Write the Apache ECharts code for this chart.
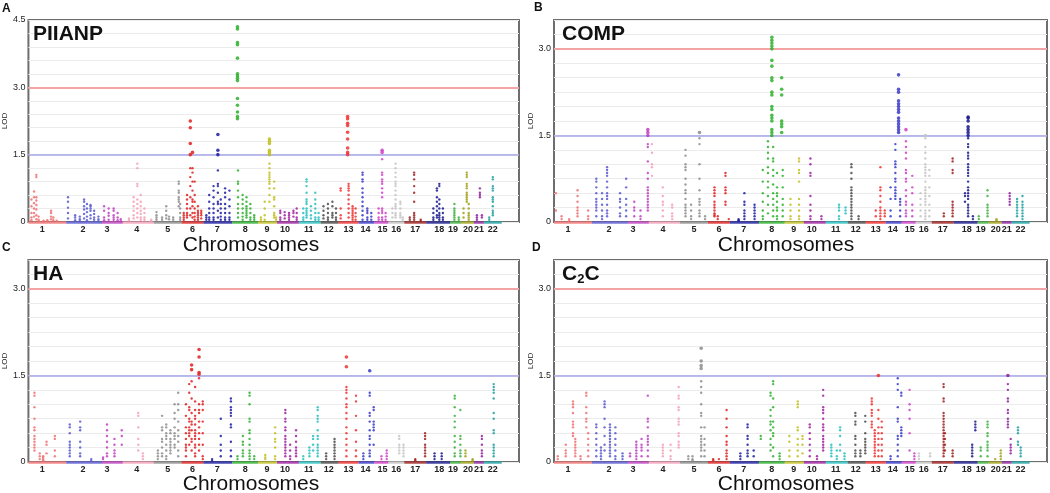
<!DOCTYPE html>
<html><head><meta charset="utf-8">
<script src="https://cdn.jsdelivr.net/npm/echarts@6/dist/echarts.min.js"></script>
<style>html,body{margin:0;padding:0;background:#fff}#c{width:1050px;height:493px}</style>
</head><body><div id="c"></div>
<script>
// ---------- data ----------
const CHROMOSOMES = ['1','2','3','4','5','6','7','8','9','10','11','12','13','14','15','16','17','18','19','20','21','22'];
// genetic length of each chromosome on the plotted map (cM)
const CHR_LEN = [285,270,157,233,210,165,218,194,143,165,165,135,150,120,105,120,165,180,82,98,75,135];
// genome position (cM) of each chromosome's tick label
const CHR_TICK_POS = [105,412,592,818,1050,1238,1425,1635,1800,1935,2115,2265,2415,2542,2670,2775,2918,3098,3202,3315,3398,3502];
const GENOME_MAX = 3700;
const LOD_SIGNIFICANT = 3.0;
const LOD_SUGGESTIVE = 1.5;
const CHR_COLORS = ['#f07070','#5858d0','#c040c0','#f4a0b8','#8c8c8c','#e02020','#1c1ca0','#2eb02e','#c0c020','#a020a0','#28c0c0','#4a4a4a','#f03030','#3a3ac8','#d040c8','#c4c4c4','#a02020','#18188c','#3cb03c','#a0a018','#9020a0','#20a0a0'];

// For each chromosome: columns of markers [relative position along chromosome, LOD, LOD, ...]
const PIIANP = [
 [[0.08,0.5,0.35,0.2,0.1,0.04],[0.15,0.68,0.55,0.42,0.3,0.2,0.12],[0.21,1.05,1.0,0.55,0.48,0.38,0.28,0.15,0.06],[0.27,0.12,0.05,0.02],[0.4,0.03,0.01],[0.5,0.02,0.04],[0.6,0.25,0.2,0.12,0.06],[0.66,0.1,0.04],[0.75,0.03]],
 [[0.05,0.55,0.45,0.32,0.2,0.08],[0.25,0.15,0.1,0.04],[0.38,0.12,0.06,0.02],[0.5,0.5,0.45,0.35,0.28,0.18,0.08],[0.58,0.4,0.3,0.22,0.12,0.04],[0.68,0.38,0.35,0.3,0.25,0.15,0.08],[0.78,0.25,0.18,0.1,0.05],[0.9,0.12,0.06,0.02]],
 [[0.1,0.35,0.25,0.1,0.04],[0.32,0.3,0.2,0.14,0.05],[0.56,0.3,0.25,0.15,0.1,0.05],[0.75,0.2,0.1,0.04],[0.9,0.06,0.02]],
 [[0.2,0.08,0.04],[0.35,0.55,0.45,0.35,0.25,0.15,0.08],[0.47,1.3,1.2,0.85,0.8,0.5,0.4,0.3,0.2,0.1],[0.58,0.6,0.45,0.35,0.25,0.18,0.1,0.05],[0.7,0.3,0.2,0.1,0.05],[0.92,0.05,0.02]],
 [[0.1,0.22,0.15,0.1,0.05],[0.3,0.1,0.05],[0.45,0.35,0.25,0.15,0.08],[0.55,0.12,0.06],[0.7,0.1,0.05],[0.9,0.9,0.85,0.7,0.65,0.55,0.5,0.45,0.35],[0.95,0.4,0.3,0.2,0.1,0.05]],
 [[0.1,0.2,0.15,0.1,0.05],[0.25,0.6,0.5,0.4,0.3,0.2,0.15,0.1],[0.4,2.25,2.1,1.75,1.5,1.2,1.0,0.8,0.55,0.3,0.15],[0.5,1.55,1.2,1.1,0.9,0.7,0.5,0.45,0.35,0.2,0.1],[0.6,0.9,0.6,0.45,0.3,0.2,0.12,0.05],[0.75,0.35,0.25,0.2,0.15,0.1,0.05],[0.9,0.25,0.2,0.15,0.08]],
 [[0.1,0.15,0.1,0.05],[0.2,0.6,0.45,0.3,0.2,0.1,0.05],[0.35,0.8,0.7,0.55,0.4,0.3,0.2,0.1,0.05],[0.5,1.95,1.6,1.5,1.15,0.85,0.8,0.65,0.45,0.4,0.25,0.1],[0.6,0.5,0.4,0.3,0.2,0.12,0.05],[0.75,0.75,0.65,0.55,0.4,0.3,0.2,0.1,0.05],[0.9,0.7,0.5,0.35,0.2,0.1,0.05]],
 [[0.2,4.35,4.3,4.0,3.95,3.65,3.3,3.25,3.2,3.15,2.75,2.6,2.45,2.35,2.3],[0.22,1.15,0.9,0.85,0.7,0.55,0.4,0.3,0.2,0.1],[0.4,0.6,0.5,0.4,0.3,0.2,0.12,0.05],[0.55,0.55,0.45,0.35,0.3,0.25,0.2,0.15,0.1],[0.7,0.4,0.3,0.2,0.1,0.05],[0.85,0.15,0.1,0.05]],
 [[0.15,0.1,0.05],[0.35,0.45,0.3,0.15,0.05],[0.6,1.85,1.8,1.75,1.6,1.55,1.5,1.3,1.2,1.1,1.05,1.0,0.95,0.9,0.85,0.75,0.6,0.45],[0.85,0.9,0.75,0.55,0.5,0.35,0.2,0.15,0.1],[0.95,0.1,0.05]],
 [[0.15,0.25,0.2,0.1,0.05],[0.35,0.22,0.15,0.08],[0.55,0.2,0.15,0.1,0.05],[0.75,0.25,0.2,0.12],[0.9,0.3,0.2,0.1,0.05]],
 [[0.2,0.3,0.2,0.1,0.05],[0.35,0.95,0.9,0.8,0.65,0.5,0.45,0.4,0.3,0.25,0.2,0.15,0.1],[0.55,0.35,0.25,0.15,0.08],[0.75,0.65,0.5,0.4,0.3,0.2,0.1,0.05],[0.9,0.2,0.1,0.05]],
 [[0.15,0.35,0.25,0.15,0.08],[0.4,0.4,0.3,0.2,0.1,0.05],[0.65,0.45,0.35,0.2,0.15,0.1],[0.85,0.3,0.2,0.1,0.05]],
 [[0.1,0.75,0.7,0.3,0.15,0.08],[0.45,2.35,2.3,2.2,2.15,2.0,1.85,1.65,1.55,1.5],[0.5,0.85,0.8,0.75,0.7,0.6,0.5,0.4,0.3,0.2,0.1],[0.7,0.35,0.3,0.25,0.2,0.15,0.1,0.05],[0.85,0.3,0.2,0.12,0.05]],
 [[0.25,1.1,1.05,0.95,0.9,0.75,0.65,0.55,0.45,0.35,0.25,0.15,0.05],[0.55,0.3,0.25,0.2,0.1,0.05],[0.8,0.2,0.12,0.05]],
 [[0.3,0.3,0.2,0.1,0.05],[0.55,1.6,1.55,1.4,1.1,1.05,0.95,0.9,0.85,0.75,0.65,0.55,0.3,0.25,0.2,0.1,0.05],[0.8,0.2,0.12,0.05]],
 [[0.25,0.3,0.2,0.1],[0.45,1.3,1.2,1.1,1.0,0.9,0.85,0.8,0.7,0.6,0.5,0.4,0.35,0.3,0.2,0.15,0.1],[0.75,0.45,0.4,0.3,0.2,0.15,0.1],[0.9,0.1,0.05]],
 [[0.25,0.1,0.05],[0.45,1.1,1.05,0.95,0.8,0.65,0.45,0.2,0.15,0.1,0.05],[0.75,0.05,0.02]],
 [[0.3,0.3,0.2,0.1,0.05],[0.45,0.75,0.7,0.55,0.45,0.35,0.25,0.15,0.1],[0.55,0.85,0.8,0.5,0.4,0.3,0.2,0.15,0.1,0.05],[0.7,0.3,0.2,0.1,0.05]],
 [[0.4,0.4,0.3,0.25,0.2,0.15,0.1,0.05],[0.8,0.1,0.05]],
 [[0.2,0.3,0.2,0.1],[0.45,1.1,1.05,1.0,0.85,0.8,0.75,0.65,0.6,0.55,0.5,0.45],[0.6,0.4,0.3,0.2,0.15,0.1,0.05]],
 [[0.3,0.15,0.1,0.05],[0.6,0.75,0.65,0.6,0.55],[0.8,0.15,0.1]],
 [[0.3,0.1,0.05],[0.5,1.0,0.95,0.8,0.75,0.7,0.55,0.5,0.45,0.35,0.25,0.2,0.15]]
];

const COMP = [
 [[0.05,0.5,0.2],[0.2,0.1,0.05],[0.4,0.05,0.02],[0.62,0.55,0.45,0.35,0.25,0.2,0.15,0.1],[0.9,0.2,0.1,0.05]],
 [[0.12,0.75,0.7,0.6,0.5,0.4,0.35,0.3,0.25,0.2,0.1],[0.28,0.5,0.4,0.3,0.2,0.1,0.05],[0.42,0.95,0.9,0.85,0.8,0.7,0.6,0.5,0.45,0.4,0.3,0.2,0.15,0.1],[0.78,0.5,0.4,0.35,0.25,0.15,0.1],[0.95,0.75,0.6,0.4,0.3,0.2,0.1]],
 [[0.3,0.35,0.25,0.2,0.1],[0.6,0.2,0.1,0.05],[0.95,1.6,1.55,1.5,1.35,1.3,1.05,0.85,0.75,0.6,0.55,0.5,0.45,0.4,0.35,0.3,0.25,0.2]],
 [[0.1,1.35,1.2,1.0,0.95,0.8],[0.45,0.6,0.45,0.35,0.3,0.2,0.1],[0.75,0.3,0.25,0.15,0.1,0.05]],
 [[0.2,1.25,1.15,1.0,0.95,0.9,0.75,0.65,0.55,0.5,0.4,0.3,0.25,0.2,0.15,0.1],[0.4,0.3,0.2,0.1,0.05],[0.7,1.55,1.45,1.35,1.0,0.75,0.55,0.4,0.35,0.3,0.2,0.15,0.1],[0.9,0.1,0.05]],
 [[0.3,0.6,0.55,0.5,0.45,0.35,0.3,0.25,0.2,0.15,0.12,0.1],[0.45,0.1,0.05],[0.8,0.85,0.8,0.6,0.55,0.5,0.35,0.3],[0.95,0.05]],
 [[0.3,0.05,0.03,0.02],[0.5,0.5,0.35,0.3,0.2,0.15,0.1,0.05],[0.85,0.3,0.25,0.2,0.15,0.1,0.05]],
 [[0.15,0.9,0.7,0.5,0.35,0.2,0.1,0.05],[0.35,1.4,1.3,1.2,1.1,0.95,0.85,0.7,0.6,0.45,0.3,0.15],[0.5,3.2,3.15,3.1,3.05,3.0,2.8,2.7,2.5,2.45,2.25,2.2,2.0,1.95,1.85,1.8,1.75,1.6,1.55,1.5],[0.55,1.3,1.1,1.05,0.9,0.8,0.65,0.5,0.4,0.3,0.2,0.1],[0.7,0.85,0.6,0.5,0.45,0.35,0.25,0.2,0.1,0.05],[0.88,2.5,2.3,2.2,1.75,1.7,1.65,1.55],[0.92,0.9,0.8,0.6,0.4,0.3,0.2,0.1]],
 [[0.3,0.4,0.3,0.2,0.1,0.05],[0.75,1.1,1.05,0.9,0.85,0.7,0.4,0.3,0.2,0.1,0.05]],
 [[0.3,1.1,1.0,0.85,0.8,0.45,0.3,0.2,0.1,0.05],[0.8,0.1,0.05]],
 [[0.6,0.3,0.25,0.2,0.1,0.05],[0.9,0.25,0.2,0.15]],
 [[0.2,1.0,0.95,0.85,0.75,0.6,0.55,0.5,0.45,0.4,0.35,0.3,0.25,0.2,0.15,0.1,0.05],[0.6,0.1,0.05]],
 [[0.5,0.2,0.1],[0.73,0.95,0.6,0.55,0.45,0.35,0.25,0.2,0.15,0.1,0.05],[0.95,0.2,0.15,0.1]],
 [[0.3,0.6,0.4,0.2,0.1],[0.6,1.35,1.25,1.05,1.0,0.95,0.85,0.75,0.7,0.6,0.55,0.5,0.45,0.4],[0.8,2.55,2.3,2.25,2.1,2.05,2.0,1.95,1.9,1.8,1.75,1.7,1.65,1.6,1.55],[0.9,0.4,0.35,0.3,0.2,0.1]],
 [[0.3,1.6,1.4,1.3,1.2,1.1,0.9,0.85,0.75,0.7,0.55,0.45,0.35,0.3,0.2,0.15,0.1],[0.75,0.8,0.6,0.5,0.3,0.2,0.1]],
 [[0.3,0.5,0.4,0.3,0.2,0.1],[0.6,1.5,1.45,1.3,1.2,1.1,1.0,0.95,0.9,0.85,0.8,0.7,0.6,0.55,0.5,0.45,0.4,0.35,0.3,0.2,0.15,0.1,0.05],[0.85,0.9,0.8,0.6,0.45,0.3,0.2,0.1]],
 [[0.55,0.15,0.1],[0.95,1.1,1.05,0.9,0.85,0.35,0.3,0.25,0.2,0.15,0.1]],
 [[0.47,0.5,0.45,0.35],[0.6,1.82,1.8,1.75,1.65,1.6,1.55,1.5,1.45,1.35,1.3,1.2,1.15,1.1,1.0,0.95,0.9,0.85,0.8,0.7,0.6,0.55,0.5,0.45,0.4,0.3,0.25,0.2,0.15,0.1],[0.8,0.1,0.05]],
 [[0.1,0.1,0.05],[0.9,0.55,0.45,0.3,0.25,0.2,0.15,0.1]],
 [[0.6,0.05,0.03]],
 [[0.8,0.5,0.45,0.4,0.35,0.3]],
 [[0.3,0.4,0.35,0.3,0.25,0.2,0.15,0.1],[0.6,0.45,0.35,0.3,0.25,0.2,0.15,0.1,0.05]]
];

const HA = [
 [[0.16,1.2,1.15,0.95,0.75,0.6,0.55,0.45,0.4,0.35,0.3,0.25,0.2],[0.3,0.15,0.1,0.05],[0.39,0.1,0.08,0.05,0.03],[0.48,0.35,0.3,0.15],[0.7,0.45,0.4,0.2,0.1]],
 [[0.1,0.65,0.6,0.5,0.35,0.3,0.25,0.2,0.15,0.1],[0.39,0.7,0.6,0.55,0.35,0.25,0.15,0.1],[0.7,0.05,0.02]],
 [[0.05,0.08,0.05],[0.24,0.65,0.55,0.45,0.35,0.25,0.15,0.1],[0.6,0.4,0.3,0.2,0.15,0.1],[0.95,0.55,0.45,0.3]],
 [[0.5,0.85,0.8,0.6,0.4,0.3,0.2],[0.65,0.15,0.1,0.05]],
 [[0.15,0.2,0.15,0.1,0.05],[0.3,0.8,0.6,0.55,0.4,0.35,0.25,0.15,0.1],[0.45,0.65,0.6,0.5,0.45,0.4,0.3,0.2,0.1,0.05],[0.6,0.55,0.5,0.4,0.35,0.3,0.25,0.2,0.15],[0.75,1.0,0.85,0.75,0.6,0.5,0.45,0.4,0.3,0.25],[0.88,1.2,1.0,0.9,0.7,0.55,0.45,0.35,0.2,0.1]],
 [[0.2,1.0,0.8,0.6,0.5,0.4,0.3,0.25,0.2,0.1],[0.35,1.35,1.2,0.95,0.9,0.75,0.7,0.6,0.55,0.5,0.45,0.3],[0.46,1.68,1.6,1.4,1.1,0.85,0.7,0.65,0.55,0.4,0.35,0.2],[0.62,1.3,1.05,0.9,0.8,0.75,0.65,0.55,0.5,0.45,0.4,0.3,0.25,0.15,0.1],[0.8,1.95,1.82,1.55,1.52,1.45,1.0,0.9,0.85,0.7,0.6,0.5,0.4,0.3,0.2],[0.97,1.05,1.0,0.9,0.7,0.5,0.3,0.1,0.05]],
 [[0.3,0.05,0.02],[0.6,0.75,0.45,0.3,0.2,0.1],[0.95,1.1,1.05,0.95,0.9,0.85,0.8,0.65,0.6,0.35,0.2,0.1]],
 [[0.2,0.1,0.05],[0.41,0.45,0.35,0.3,0.2,0.15,0.1],[0.67,1.2,1.15,1.0,0.75,0.7,0.55,0.5,0.4,0.3,0.2,0.15,0.1,0.05],[0.85,0.1,0.05]],
 [[0.38,0.12,0.08,0.05],[0.9,0.6,0.5,0.4,0.35,0.25,0.1,0.05]],
 [[0.38,0.9,0.85,0.75,0.7,0.6,0.55,0.45,0.4,0.35,0.3,0.25,0.2,0.15,0.1],[0.6,0.3,0.2,0.1,0.05],[0.87,0.55,0.45,0.35,0.25,0.2,0.15,0.1]],
 [[0.2,0.1,0.05],[0.48,0.25,0.2,0.15,0.1],[0.65,0.45,0.4,0.3,0.2],[0.86,0.95,0.9,0.8,0.75,0.7,0.55,0.45,0.4,0.3,0.25,0.2,0.15,0.1]],
 [[0.3,0.15,0.1,0.05],[0.77,0.4,0.35,0.3,0.25,0.2,0.15,0.1,0.05]],
 [[0.39,1.82,1.65,1.3,1.25,1.2,1.1,1.0,0.95,0.85,0.75,0.6,0.5,0.4,0.3,0.2,0.1],[0.87,1.15,1.05,0.8,0.55,0.35,0.2,0.1]],
 [[0.3,0.15,0.1,0.05],[0.7,1.58,1.2,1.15,0.85,0.8,0.7,0.55,0.45,0.4,0.3,0.2,0.15,0.1],[0.95,0.95,0.9,0.7,0.65,0.6,0.55,0.3]],
 [[0.5,0.1,0.05],[0.88,0.2,0.15,0.1,0.05]],
 [[0.68,0.45,0.4,0.3,0.25,0.2,0.15],[0.95,0.3,0.25,0.2,0.15,0.1]],
 [[0.5,0.05,0.03],[0.95,0.5,0.45,0.4,0.3,0.25,0.2,0.15,0.1]],
 [[0.35,0.15,0.1,0.05],[0.65,0.15,0.1,0.05]],
 [[0.43,1.15,1.1,0.95,0.8,0.7,0.6,0.45,0.35,0.25,0.15,0.1],[0.95,0.9,0.45,0.4,0.3,0.2,0.15,0.1]],
 [[0.35,0.2,0.15,0.1],[0.9,0.05,0.03]],
 [[0.8,0.45,0.4,0.3,0.2,0.15,0.1]],
 [[0.55,1.35,1.3,1.25,1.2,1.1,0.85,0.75,0.55,0.5,0.3,0.25,0.2,0.15,0.1]]
];

const C2C = [
 [[0.1,0.1,0.05],[0.31,0.3,0.2,0.15,0.1],[0.5,1.05,1.0,0.95,0.85,0.7,0.65,0.6,0.5,0.45],[0.56,0.4,0.35,0.3,0.25,0.2,0.15,0.1],[0.7,0.1,0.05],[0.85,1.2,1.15,0.95,0.85,0.75,0.7,0.6],[0.9,0.5,0.4,0.3,0.2,0.1]],
 [[0.12,0.65,0.6,0.5,0.4,0.3,0.2,0.1],[0.25,0.25,0.2,0.15,0.1,0.05],[0.35,1.05,1.0,0.95,0.75,0.6,0.45,0.3,0.2],[0.5,0.65,0.6,0.55,0.5,0.45,0.4,0.35,0.3,0.25,0.2,0.15,0.1],[0.65,0.6,0.5,0.4,0.3,0.2,0.1,0.05],[0.85,0.15,0.1,0.05]],
 [[0.1,0.15,0.1],[0.4,0.35,0.3,0.25,0.2,0.15,0.1,0.05],[0.65,0.4,0.3,0.25,0.2,0.1],[0.95,1.15,0.75,0.7,0.6,0.45,0.4,0.35,0.3,0.2,0.1]],
 [[0.45,0.3,0.25,0.2,0.15,0.1],[0.7,0.3,0.2,0.1,0.05],[0.96,1.3,1.15,1.1,0.95,0.9,0.75,0.7,0.65,0.5,0.45,0.35,0.3,0.25]],
 [[0.3,0.1,0.05],[0.45,0.1,0.05,0.03],[0.76,1.97,1.75,1.67,1.62,1.4,1.3,1.2,1.0,0.85,0.8,0.6,0.45,0.4,0.35,0.3,0.25,0.2,0.1],[0.88,0.6,0.4,0.3,0.2,0.1]],
 [[0.24,0.05,0.03],[0.5,0.05],[0.85,0.9,0.75,0.6,0.45,0.35,0.3,0.2,0.15,0.1,0.05]],
 [[0.36,0.15,0.1,0.05],[0.61,0.65,0.6,0.45,0.4,0.3,0.2,0.15,0.1],[0.82,0.2,0.1]],
 [[0.07,0.45,0.4],[0.45,1.2,1.15,0.9,0.8,0.7,0.65,0.55,0.4,0.3,0.2],[0.55,1.4,1.35,1.1,0.95,0.7,0.6,0.5,0.45,0.25,0.1],[0.8,0.15,0.1,0.05]],
 [[0.24,0.45,0.35,0.2,0.1],[0.68,1.05,1.0,0.95,0.6,0.55,0.4,0.3,0.2,0.1],[0.93,0.45,0.4,0.3,0.15]],
 [[0.27,0.65,0.6,0.5,0.4,0.3,0.2,0.1],[0.6,0.1,0.05],[0.88,1.25,1.15,0.95,0.9,0.85,0.75,0.65,0.6,0.55,0.45,0.4,0.35,0.3,0.25,0.2]],
 [[0.25,0.3,0.25,0.2,0.15,0.1],[0.5,0.2,0.1,0.05],[0.65,0.6,0.55,0.45,0.3,0.2],[0.85,0.15,0.1,0.05]],
 [[0.42,0.85,0.8,0.7,0.65,0.45,0.4,0.3,0.2,0.15,0.1],[0.7,0.2,0.15,0.1],[0.97,0.8,0.7,0.5,0.4,0.35,0.3,0.25,0.2,0.15]],
 [[0.3,1.1,1.05,1.0,0.9,0.85,0.8,0.7,0.65,0.6],[0.45,0.55,0.5,0.45,0.4,0.35,0.3,0.25,0.2,0.15,0.1],[0.63,1.5,0.9,0.75,0.6,0.5,0.4,0.3,0.2,0.1],[0.8,0.7,0.6,0.5,0.4,0.3,0.2,0.1]],
 [[0.3,0.1,0.05],[0.75,1.45,1.35,1.25,0.95,0.75,0.7,0.45,0.4,0.3,0.2,0.1],[0.97,1.2,1.15,0.6,0.55,0.5,0.45]],
 [[0.56,1.25,1.0,0.9,0.75,0.5,0.2],[0.9,0.15,0.1,0.05]],
 [[0.2,0.15,0.1,0.05],[0.9,0.15,0.1]],
 [[0.54,1.35,1.3,1.1,1.05,0.85,0.8,0.75,0.7,0.65,0.6,0.55,0.5,0.45,0.4,0.35,0.3,0.25,0.2,0.15,0.1],[0.6,0.5,0.4,0.3,0.2],[0.95,0.2,0.15,0.1]],
 [[0.77,0.3,0.25,0.2,0.15,0.1],[0.9,0.7,0.65,0.6,0.55]],
 [[0.28,0.25,0.2,0.1],[0.9,0.7,0.65,0.6,0.5,0.45,0.35,0.3,0.25,0.2,0.1]],
 [[0.5,0.05],[0.93,0.2,0.15,0.1,0.05]],
 [[0.62,1.5,1.35,1.25,1.1,1.05,0.9,0.85,0.75,0.7,0.65,0.6],[0.9,0.4,0.3,0.25,0.2,0.15]],
 [[0.35,0.6,0.55,0.5,0.35,0.3],[0.5,0.25,0.2,0.15,0.1]]
];

const PANEL_LETTERS = ['A','B','C','D'];
const TRAITS = ['PIIANP','COMP','HA','C2C'];
const Y_MAX = [4.5, 3.5, 3.5, 3.5];
const Y_STEP = [0.3, 0.25, 0.25, 0.25];
const Y_LABELS = [[0,1.5,3.0,4.5],[0,1.5,3.0],[0,1.5,3.0],[0,1.5,3.0]];
const PANEL_DATA = [PIIANP, COMP, HA, C2C];

// ---------- layout ----------
const GRIDS = [
  {left:26, top:20, width:493, height:202},
  {left:554, top:20, width:493, height:202},
  {left:26, top:260, width:493, height:202},
  {left:554, top:260, width:493, height:202}
];
const FONT = '"Liberation Sans", Arial, sans-serif';

const chrStart = [];
CHR_LEN.reduce((acc, l, i) => { chrStart[i] = acc; return acc + l; }, 0);

const chart = echarts.init(document.getElementById('c'), null, {renderer:'canvas'});
const series = [];
const xAxes = [], yAxes = [];

GRIDS.forEach((g, p) => {
  xAxes.push({
    gridIndex:p, type:'value', min:0, max:GENOME_MAX,
    axisLine:{show:false}, axisTick:{show:false}, splitLine:{show:false},
    axisLabel:{
      customValues: CHR_TICK_POS,
      formatter: v => { const i = CHR_TICK_POS.indexOf(v); return i >= 0 ? CHROMOSOMES[i] : ''; },
      fontSize:9, fontWeight:'bold', color:'#222', margin:3, fontFamily:FONT
    }
  });
  yAxes.push({
    gridIndex:p, type:'value', min:0, max:Y_MAX[p], interval:Y_STEP[p],
    axisLine:{show:false}, axisTick:{show:false},
    splitLine:{show:true, lineStyle:{color:'#ececec', width:1}},
    axisLabel:{
      formatter: v => Y_LABELS[p].some(t => Math.abs(t - v) < 1e-6) ? (Math.abs(v) < 1e-9 ? '0' : v.toFixed(1)) : '',
      fontSize:9, color:'#222', margin:3, fontFamily:FONT
    },
    name:'LOD', nameLocation:'middle', nameGap:18, nameRotate:90,
    nameTextStyle:{fontSize:8, color:'#222', fontFamily:FONT}
  });

  const chrData = PANEL_DATA[p];
  chrData.forEach((cols, c) => {
    const pts = [];
    cols.forEach(col => {
      const x = chrStart[c] + col[0] * CHR_LEN[c];
      for (let k = 1; k < col.length; k++) pts.push([x, col[k]]);
    });
    const ml = [[{coord:[chrStart[c], 0]}, {coord:[chrStart[c] + CHR_LEN[c], 0]}]];
    const mlItems = ml.map(seg => seg);
    const markData = [[{coord:[chrStart[c], 0], lineStyle:{color:CHR_COLORS[c], width:2.5, type:'solid', opacity:0.8}}, {coord:[chrStart[c] + CHR_LEN[c], 0]}]];
    if (c === 0) {
      markData.push({yAxis:LOD_SIGNIFICANT, lineStyle:{color:'#f4a4a4', width:2, type:'solid'}});
      markData.push({yAxis:LOD_SUGGESTIVE, lineStyle:{color:'#a4a4e6', width:1.5, type:'solid'}});
    }
    series.push({
      type:'scatter', xAxisIndex:p, yAxisIndex:p, data:pts,
      symbol:'circle',
      symbolSize: v => v[1] >= LOD_SUGGESTIVE ? 3.6 : 2.4,
      itemStyle:{color:CHR_COLORS[c], opacity:0.85},
      silent:true, animation:false,
      markLine:{silent:true, symbol:'none', label:{show:false}, animation:false, z:1, data:markData}
    });
  });
});

const graphics = [];
const letterPos = [[2,3],[534,2],[2,242],[532,242]];
PANEL_LETTERS.forEach((L, i) => graphics.push({type:'text', left:letterPos[i][0], top:letterPos[i][1],
  style:{text:L, font:'bold 12px ' + FONT, fill:'#111'}}));
const traitPos = [[33,24],[562,24],[33,264],[562,264]];
TRAITS.forEach((t, i) => {
  if (t === 'C2C') {
    graphics.push({type:'text', left:traitPos[i][0], top:traitPos[i][1], z:10,
      style:{text:'{a|C}{b|2}{a|C}', rich:{a:{font:'bold 21px ' + FONT, fill:'#111'}, b:{font:'bold 13px ' + FONT, fill:'#111', padding:[10,0,0,0]}}}});
  } else {
    graphics.push({type:'text', left:traitPos[i][0], top:traitPos[i][1], z:10,
      style:{text:t, font:'bold 21px ' + FONT, fill:'#111'}});
  }
});
const xTitlePos = [[251,245],[786,245],[251,484],[786,484]];
xTitlePos.forEach(pos => graphics.push({type:'text', x:pos[0], y:pos[1],
  style:{text:'Chromosomes', font:'21px ' + FONT, fill:'#111', textAlign:'center', textVerticalAlign:'middle'}}));

chart.setOption({
  animation:false,
  backgroundColor:'#fff',
  grid: GRIDS.map(g => Object.assign({show:true, borderColor:'#6e6e6e', borderWidth:2, backgroundColor:'transparent', containLabel:false}, g)),
  xAxis:xAxes, yAxis:yAxes, series:series, graphic:graphics
});
</script>
</body></html>
